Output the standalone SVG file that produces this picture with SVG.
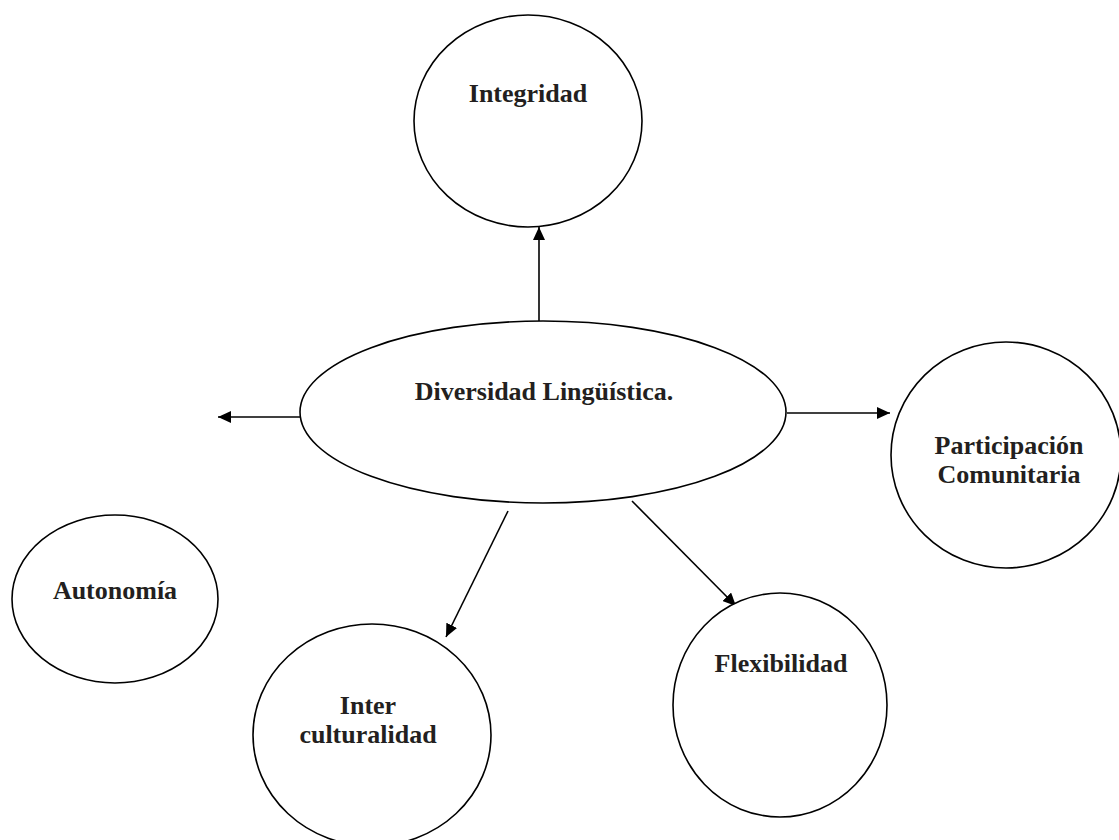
<svg xmlns="http://www.w3.org/2000/svg" width="1119" height="840" viewBox="0 0 1119 840">
<style>
.n{fill:#fff;stroke:#000;stroke-width:1.6}
.t{font-family:"Liberation Serif","Times New Roman",serif;font-weight:bold;font-size:26px;fill:#231f20;text-anchor:middle}
.c{stroke:#000;stroke-width:1.6;fill:none;marker-end:url(#ah)}
</style>
<defs>
<marker id="ah" viewBox="0 0 13 12" refX="13" refY="6" markerWidth="13" markerHeight="12" markerUnits="userSpaceOnUse" orient="auto">
<path d="M0,0 L13,6 L0,12 z" fill="#000"/>
</marker>
</defs>
<rect width="1119" height="840" fill="#fff"/>
<g id="connectors">
<line class="c" x1="539" y1="321" x2="539" y2="227"/>
<line class="c" x1="300" y1="417" x2="218" y2="417"/>
<line class="c" x1="787" y1="413" x2="890" y2="413"/>
<line class="c" x1="508" y1="511" x2="446" y2="637"/>
<line class="c" x1="632" y1="501" x2="736" y2="606"/>
</g>
<g id="integridad">
<ellipse class="n" cx="528" cy="121" rx="114" ry="106"/>
<text class="t" x="528" y="102">Integridad</text>
</g>
<g id="diversidad">
<ellipse class="n" cx="543" cy="412" rx="243" ry="91"/>
<text class="t" x="544" y="400">Diversidad Lingüística.</text>
</g>
<g id="participacion">
<ellipse class="n" cx="1006" cy="455" rx="115" ry="113"/>
<text class="t" x="1009" y="454">Participación</text>
<text class="t" x="1009" y="483">Comunitaria</text>
</g>
<g id="autonomia">
<ellipse class="n" cx="115" cy="599" rx="103" ry="84"/>
<text class="t" x="115" y="599">Autonomía</text>
</g>
<g id="interculturalidad">
<ellipse class="n" cx="372" cy="735" rx="119" ry="111"/>
<text class="t" x="368" y="714">Inter</text>
<text class="t" x="368" y="743">culturalidad</text>
</g>
<g id="flexibilidad">
<ellipse class="n" cx="780" cy="705" rx="107" ry="112"/>
<text class="t" x="781" y="672">Flexibilidad</text>
</g>
</svg>
